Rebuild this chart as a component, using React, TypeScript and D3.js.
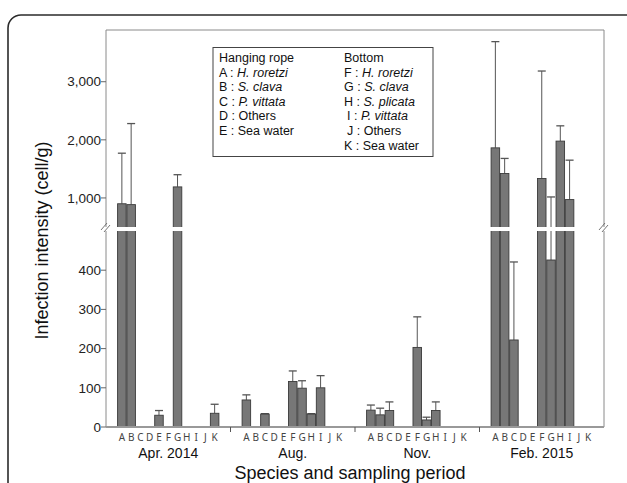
import React from 'react'
import * as d3 from 'd3'

const periods = ['Apr. 2014', 'Aug.', 'Nov.', 'Feb. 2015']
const letters = ['A', 'B', 'C', 'D', 'E', 'F', 'G', 'H', 'I', 'J', 'K']

// mean infection intensity per species letter, one array per period
const aprMeans = [900, 885, 0, 0, 30, 0, 1190, 0, 0, 0, 35]
const augMeans = [69, 0, 33, 0, 0, 116, 99, 33, 100, 0, 0]
const novMeans = [43, 31, 42, 0, 0, 203, 18, 42, 0, 0, 0]
const febMeans = [1862, 1420, 222, 0, 0, 1334, 426, 1978, 972, 0, 0]

// standard deviation (upper error bar)
const aprSd = [870, 1395, 0, 0, 12, 0, 210, 0, 0, 0, 23]
const augSd = [13, 0, 1, 0, 0, 27, 19, 1, 31, 0, 0]
const novSd = [13, 17, 22, 0, 0, 78, 7, 22, 0, 0, 0]
const febSd = [1828, 260, 199, 0, 0, 1850, 591, 263, 678, 0, 0]

const lowTicks = [0, 100, 200, 300, 400]
const highTicks = [1000, 2000, 3000]

const legendLeft = [
  ['Hanging rope', ''],
  ['A :', 'H. roretzi'],
  ['B :', 'S. clava'],
  ['C :', 'P. vittata'],
  ['D : Others', ''],
  ['E : Sea water', ''],
]
const legendRight = [
  ['Bottom', ''],
  ['F :', 'H. roretzi'],
  ['G :', 'S. clava'],
  ['H :', 'S. plicata'],
  [' I :', 'P. vittata'],
  [' J : Others', ''],
  ['K : Sea water', ''],
]

const means = [aprMeans, augMeans, novMeans, febMeans]
const sds = [aprSd, augSd, novSd, febSd]

const W = 627
const H = 483
const left = 106
const right = 604
const top = 30
const bottom = 427
const breakVal = 500
const gapTop = 227
const gapBottom = 231

const font = 'Arial, "Liberation Sans", sans-serif'
const lfont = '"Noto Sans", "Open Sans", sans-serif'

export default function App() {
  const xPeriod = d3.scaleBand().domain(periods).range([left, right]).padding(0)
  const xLetter = d3
    .scaleBand()
    .domain(letters)
    .range([0, xPeriod.bandwidth()])
    .paddingInner(0.08)
    .paddingOuter(1.25)

  const yLow = d3.scaleLinear().domain([0, breakVal]).range([bottom, gapBottom])
  const yHigh = d3.scaleLinear().domain([breakVal, 3890]).range([gapTop, top])
  const y = (v: number) => (v <= breakVal ? yLow(v) : yHigh(v))

  const bars = periods.flatMap((p, pi) =>
    letters.map((l, li) => ({
      p,
      l,
      v: means[pi][li],
      sd: sds[pi][li],
    }))
  )

  const bw = xLetter.bandwidth()
  const cap = 8

  return (
    <div style={{ position: 'absolute', left: 0, top: 0 }}>
      <svg width={W} height={H} style={{ display: 'block', background: '#fff' }}>
        <rect x={8} y={15} width={700} height={600} rx={13} fill="none" stroke="#2b2b2b" strokeWidth={1.6} />

        {/* plot frame */}
        <line x1={left} x2={right} y1={top} y2={top} stroke="#8a8a8a" />
        <line x1={right} x2={right} y1={top} y2={bottom} stroke="#8a8a8a" />
        <line x1={left} x2={left} y1={top} y2={bottom} stroke="#8a8a8a" />

        {/* error bars */}
        {bars
          .filter(d => d.v > 0)
          .map((d, i) => {
            const cx = (xPeriod(d.p) as number) + (xLetter(d.l) as number) + bw / 2
            const yt = y(d.v + d.sd)
            return (
              <g key={'e' + i} stroke="#555" strokeWidth={1}>
                <line x1={cx} x2={cx} y1={y(d.v)} y2={yt} />
                <line x1={cx - cap / 2} x2={cx + cap / 2} y1={yt} y2={yt} strokeWidth={1.3} />
              </g>
            )
          })}

        {/* bars */}
        {bars
          .filter(d => d.v > 0)
          .map((d, i) => {
            const x = (xPeriod(d.p) as number) + (xLetter(d.l) as number)
            return (
              <rect
                key={'b' + i}
                x={x}
                y={y(d.v)}
                width={bw}
                height={bottom - y(d.v)}
                fill="#777"
                stroke="#3a3a3a"
                strokeWidth={0.9}
              />
            )
          })}

        {/* axis break */}
        <rect x={left + 1} y={gapTop} width={right - left - 2} height={gapBottom - gapTop} fill="#fff" />
        <rect x={left - 1} y={gapTop} width={3} height={gapBottom - gapTop} fill="#fff" />
        <rect x={right - 1} y={gapTop} width={3} height={gapBottom - gapTop} fill="#fff" />
        {[left, right].map(x => (
          <g key={'br' + x} stroke="#666" strokeWidth={0.9}>
            <line x1={x - 5} x2={x + 1} y1={gapTop + 3} y2={gapTop - 4} />
            <line x1={x - 2} x2={x + 4} y1={gapTop + 5} y2={gapTop - 2} />
          </g>
        ))}

        {/* x axis */}
        <line x1={left} x2={right} y1={bottom} y2={bottom} stroke="#999" strokeWidth={1.8} />
        {periods.slice(1).map(p => (
          <line key={'s' + p} x1={xPeriod(p)} x2={xPeriod(p)} y1={bottom} y2={bottom + 5} stroke="#555" />
        ))}
        {periods.map(p =>
          letters.map(l => (
            <text
              key={p + l}
              x={(xPeriod(p) as number) + (xLetter(l) as number) + bw / 2}
              y={bottom + 14}
              textAnchor="middle"
              fontFamily={lfont}
              fontSize={10}
              fill="#444"
            >
              {l}
            </text>
          ))
        )}
        {periods.map(p => (
          <text
            key={'pl' + p}
            x={(xPeriod(p) as number) + xPeriod.bandwidth() / 2}
            y={458}
            textAnchor="middle"
            fontFamily={font}
            fontSize={14}
            fill="#111"
          >
            {p}
          </text>
        ))}
        <text x={350} y={479} textAnchor="middle" fontFamily={font} fontSize={18} fill="#111">
          Species and sampling period
        </text>

        {/* y axis */}
        {[...lowTicks.map(t => ({ t, yy: yLow(t) })), ...highTicks.map(t => ({ t, yy: yHigh(t) }))].map(d => (
          <g key={'t' + d.t}>
            <line x1={left - 5} x2={left} y1={d.yy} y2={d.yy} stroke="#666" />
            <text
              x={left - 5}
              y={d.yy}
              dy="0.35em"
              textAnchor="end"
              fontFamily={font}
              fontSize={13.5}
              fill="#222"
            >
              {d3.format(',')(d.t)}
            </text>
          </g>
        ))}
        <text
          transform={`translate(48,${(top + bottom) / 2 + 12}) rotate(-90)`}
          textAnchor="middle"
          fontFamily={font}
          fontSize={18}
          fill="#111"
        >
          Infection intensity (cell/g)
        </text>

        {/* legend */}
        <rect x={213} y={47.5} width={220} height={109} fill="#fff" stroke="#444" strokeWidth={1} />
        {legendLeft.map((row, i) => (
          <text key={'ll' + i} x={219} y={62 + i * 14.6} fontFamily={font} fontSize={12.5} fill="#111">
            {row[0] + (row[1] ? ' ' : '')}
            {row[1] && <tspan fontStyle="italic">{row[1]}</tspan>}
          </text>
        ))}
        {legendRight.map((row, i) => (
          <text
            key={'lr' + i}
            x={344 + (row[0].startsWith(' ') ? 3 : 0)}
            y={62 + i * 14.6}
            fontFamily={font}
            fontSize={12.5}
            fill="#111"
          >
            {row[0].trim() + (row[1] ? ' ' : '')}
            {row[1] && <tspan fontStyle="italic">{row[1]}</tspan>}
          </text>
        ))}
      </svg>
    </div>
  )
}
